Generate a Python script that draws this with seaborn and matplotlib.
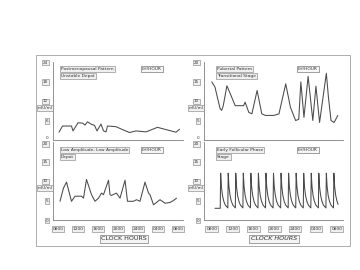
import matplotlib
matplotlib.use("Agg")
import matplotlib.pyplot as plt
import seaborn as sns
from matplotlib.patches import Rectangle

sns.set_theme(style="white")
plt.rcParams["font.family"] = ["DejaVu Sans"]

# ---------------- data ----------------
hour_ticks = [0, 4, 8, 12, 16, 20, 24]
hour_labels = ["0800", "1200", "1600", "2000", "2400", "0400", "0800"]

# top-left: postmenopausal pattern
post_t = [0.2, 0.9, 2.7, 3.0, 4.0, 4.9, 5.4, 5.9, 6.7, 7.3, 7.8, 8.6, 9.1, 9.6, 9.9,
          11.6, 12.9, 14.3, 15.6, 17.6, 19.9, 21.6, 23.6, 24.3]
post_v = [2.4, 4.3, 4.3, 2.8, 5.3, 5.2, 4.6, 5.6, 4.8, 4.5, 2.8, 4.9, 2.8, 2.5, 4.3,
          4.1, 3.2, 2.3, 2.8, 2.5, 3.9, 3.2, 2.4, 3.3]

# top-right: pubertal pattern
pub_t = [0.0, 0.6, 1.6, 1.9, 2.2, 2.9, 3.5, 4.5, 5.5, 6.1, 6.4, 7.1, 7.7, 8.7, 9.6,
         10.3, 11.9, 12.9, 14.2, 15.1, 16.1, 16.7, 17.1, 17.7, 18.5, 19.4, 20.0, 20.7,
         22.0, 22.4, 22.9, 23.5, 24.2]
pub_v = [14.9, 13.6, 8.0, 7.6, 8.8, 13.9, 12.0, 8.8, 8.8, 8.8, 9.7, 7.1, 6.7, 12.7, 6.7,
         6.3, 6.3, 6.7, 14.4, 8.4, 5.0, 5.3, 14.9, 5.8, 16.3, 5.0, 13.8, 4.5,
         17.1, 11.0, 5.0, 4.5, 6.3]

# bottom-left: low amplitude pattern
low_t = [0.4, 1.1, 1.7, 2.7, 3.4, 4.7, 5.1, 5.7, 6.7, 7.4, 8.1, 8.7, 9.1, 10.1, 10.4,
         10.7, 11.7, 12.4, 13.4, 13.9, 15.1, 15.7, 16.4, 17.4, 18.1, 18.4, 19.1, 20.4,
         21.4, 22.4, 23.1, 23.7]
low_v = [4.8, 8.2, 9.7, 4.8, 6.1, 6.1, 5.6, 10.4, 6.5, 4.8, 5.6, 6.9, 6.5, 10.2, 6.5,
         6.3, 6.9, 5.6, 10.2, 4.8, 4.8, 5.2, 4.8, 9.7, 6.9, 6.5, 3.9, 5.2,
         4.3, 4.5, 5.0, 5.6]

# bottom-right: early follicular phase
fol_t = [0.60,
         1.62, 1.70, 1.85, 2.05, 2.30, 2.60,
         3.07, 3.15, 3.30, 3.50, 3.75, 4.05,
         4.52, 4.60, 4.75, 4.95, 5.20, 5.50,
         5.97, 6.05, 6.20, 6.40, 6.65, 6.95,
         7.42, 7.50, 7.65, 7.85, 8.10, 8.40,
         8.87, 8.95, 9.10, 9.30, 9.55, 9.85,
         10.32, 10.40, 10.55, 10.75, 11.00, 11.30,
         11.77, 11.85, 12.00, 12.20, 12.45, 12.75,
         13.22, 13.30, 13.45, 13.65, 13.90, 14.20,
         14.67, 14.75, 14.90, 15.10, 15.35, 15.65,
         16.12, 16.20, 16.35, 16.55, 16.80, 17.10,
         17.57, 17.65, 17.80, 18.00, 18.25, 18.55,
         19.02, 19.10, 19.25, 19.45, 19.70, 20.00,
         20.47, 20.55, 20.70, 20.90, 21.15, 21.45,
         21.92, 22.00, 22.15, 22.35, 22.60, 22.90,
         23.37, 23.45, 23.60, 23.80, 24.05, 24.25]
fol_v = [3.0,
         3.0, 12.0, 8.5, 6.3, 4.8, 3.8,
         3.1, 12.0, 8.5, 6.3, 4.8, 3.8,
         3.1, 12.0, 8.5, 6.3, 4.8, 3.8,
         3.1, 12.0, 8.5, 6.3, 4.8, 3.8,
         3.1, 12.0, 8.5, 6.3, 4.8, 3.8,
         3.1, 12.0, 8.5, 6.3, 4.8, 3.8,
         3.1, 12.0, 8.5, 6.3, 4.8, 3.8,
         3.1, 12.0, 8.5, 6.3, 4.8, 3.8,
         3.1, 12.0, 8.5, 6.3, 4.8, 3.8,
         3.1, 12.0, 8.5, 6.3, 4.8, 3.8,
         3.1, 12.0, 8.5, 6.3, 4.8, 3.8,
         3.1, 12.0, 8.5, 6.3, 4.8, 3.8,
         3.1, 12.0, 8.5, 6.3, 4.8, 3.8,
         3.1, 12.0, 8.5, 6.3, 4.8, 3.8,
         3.1, 12.0, 8.5, 6.3, 4.8, 3.8,
         3.1, 12.0, 8.5, 6.3, 4.8, 4.0]

panel_titles = [("Postmenopausal Pattern", "Unstable Depot"),
                ("Pubertal Pattern", "Transitional Stage"),
                ("Low Amplitude, Low Amplitude", "Depot"),
                ("Early Follicular Phase", "Stage")]
rate_label = "LH/HOUR"
unit_label = "mIU/ml"
x_title = "CLOCK HOURS"

# ---------------- figure ----------------
W, H = 360, 270
fig = plt.figure(figsize=(W / 100, H / 100), dpi=100)
fig.patch.set_facecolor("white")

def fx(x):
    return x / W

def fy(y):
    return 1 - y / H

BOX = dict(boxstyle="square,pad=0.2", fc="#efefef", ec="#7a7a7a", lw=0.4)
LINE = "#4a4a4a"
AX = "#808080"

fig.patches.append(Rectangle((fx(36), fy(246)), fx(350) - fx(36), fy(55) - fy(246),
                             transform=fig.transFigure, fill=False, ec="#a0a0a0", lw=0.6))

panels = [
    (53, 183, 62, 140, (-1.0, 25.0), (0, 24), [0, 6, 12, 18, 24], post_t, post_v, False),
    (204, 343, 62, 140, (-1.5, 25.2), (0, 20), [0, 5, 10, 15, 20], pub_t, pub_v, False),
    (53, 183, 142, 220, (-1.0, 25.0), (0, 20), [0, 5, 10, 15, 20], low_t, low_v, True),
    (204, 343, 142, 220, (-1.5, 25.2), (0, 20), [0, 5, 10, 15, 20], fol_t, fol_v, True),
]

for i, (l, r, t, b, xl, yl, yt, xs, ys, show_x) in enumerate(panels):
    ax = fig.add_axes([fx(l), fy(b), fx(r) - fx(l), fy(t) - fy(b)])
    ax.set_facecolor("none")
    sns.lineplot(x=xs, y=ys, ax=ax, color=LINE, lw=0.75, sort=False, estimator=None)
    ax.set_xlim(*xl)
    ax.set_ylim(*yl)
    for s in ["top", "right"]:
        ax.spines[s].set_visible(False)
    for s in ["left", "bottom"]:
        ax.spines[s].set_color(AX)
        ax.spines[s].set_linewidth(0.6)
    ax.set_yticks(yt)
    ax.set_yticklabels([str(v) for v in yt], fontsize=3.0, color="#333333")
    labs = ax.get_yticklabels()
    for k, lab in enumerate(labs):
        if not (k == 0 and not show_x):
            lab.set_bbox(BOX)
    if not show_x:
        labs[0].set_va("bottom")
    else:
        labs[-1].set_va("top")
    ax.tick_params(axis="y", length=1.5, width=0.4, color=AX, pad=2)
    minor = [k * 1.5 for k in range(17)]
    ax.set_xticks(minor, minor=True)
    ax.tick_params(axis="x", which="minor", length=2, width=0.4, color=AX, direction="in")
    ax.set_xticks(hour_ticks)
    if show_x:
        ax.set_xticklabels(hour_labels, fontsize=3.2, color="#333333", bbox=BOX)
    else:
        ax.set_xticklabels([])
    ax.tick_params(axis="x", which="major", length=0, pad=5)
    ax.set_xlabel("")
    ax.set_ylabel("")

    line1, line2 = panel_titles[i]
    tx = 61 if l < 100 else 217
    ty = t + 7 if not show_x else t + 8
    fig.text(fx(tx), fy(ty), line1, fontsize=3.2, color="#333333", va="center", ha="left", bbox=BOX)
    fig.text(fx(tx), fy(ty + 7), line2, fontsize=3.2, color="#333333", va="center", ha="left", bbox=BOX)
    rx = 152 if l < 100 else 308
    fig.text(fx(rx), fy(ty), rate_label, fontsize=3.2, color="#333333", va="center", ha="center",
             bbox=dict(boxstyle="square,pad=0.3", fc="#f6f6f6", ec="#7a7a7a", lw=0.5))
    ux = l - 8
    uy = t + 46
    fig.text(fx(ux), fy(uy), unit_label, fontsize=3.0, color="#333333", va="center", ha="center", bbox=BOX)

fig.text(fx(124), fy(239), x_title, fontsize=4.6, color="#333333", ha="center", va="center",
         bbox=dict(boxstyle="square,pad=0.25", fc="#f4f4f4", ec="#7a7a7a", lw=0.5))
fig.text(fx(274), fy(239), x_title, fontsize=4.6, color="#333333", ha="center", va="center",
         style="italic", bbox=dict(boxstyle="square,pad=0.25", fc="#f4f4f4", ec="#7a7a7a", lw=0.5))

fig.savefig("out.png", dpi=100)
